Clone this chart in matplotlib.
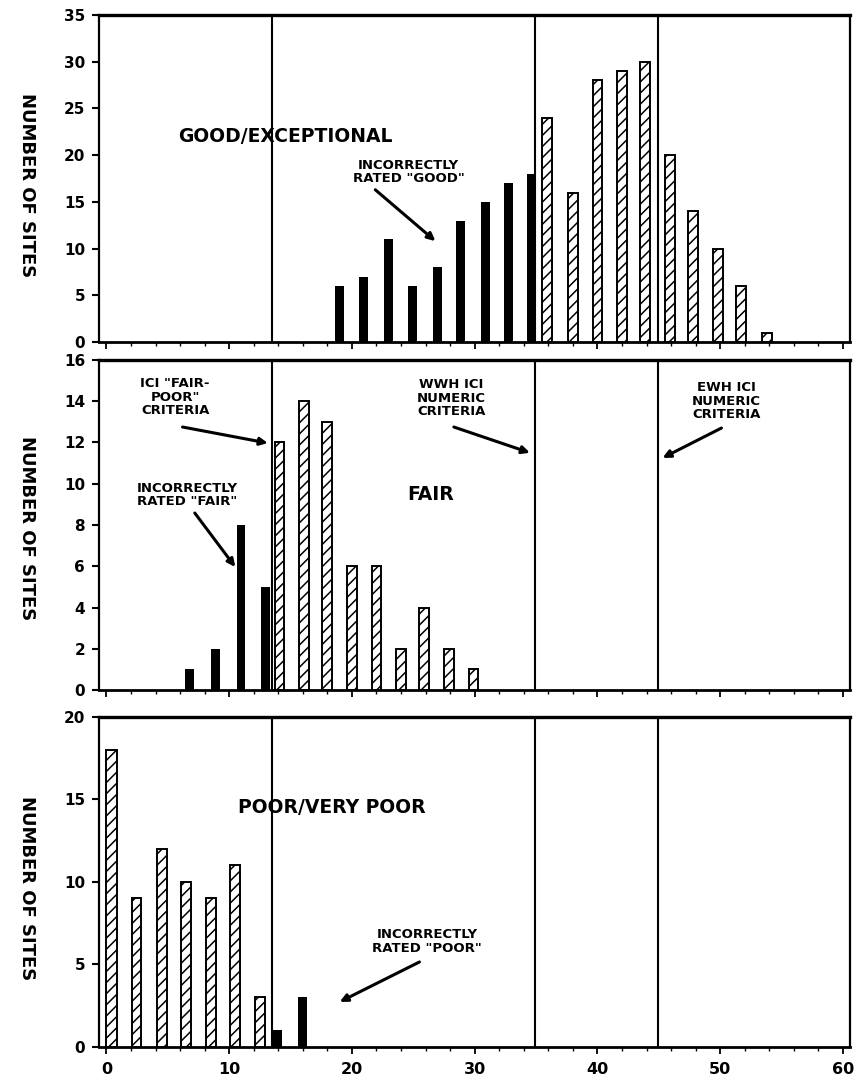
import matplotlib
matplotlib.use("Agg")
import matplotlib.pyplot as plt
from matplotlib.ticker import MultipleLocator

plt.rcParams['font.family'] = ['DejaVu Sans']
plt.rcParams['font.weight'] = 'bold'
plt.rcParams['hatch.linewidth'] = 1.1

# ---------------- data ----------------
# Panel 1: GOOD/EXCEPTIONAL
p1_black_x = [18.6, 20.6, 22.6, 24.6, 26.6, 28.5, 30.5, 32.4, 34.3]
p1_black_y = [6, 7, 11, 6, 8, 13, 15, 17, 18]
p1_hatch_x = [35.5, 37.6, 39.6, 41.6, 43.5, 45.5, 47.4, 49.4, 51.3, 53.4]
p1_hatch_y = [24, 16, 28, 29, 30, 20, 14, 10, 6, 1]
# Panel 2: FAIR
p2_black_x = [6.4, 8.5, 10.6, 12.6]
p2_black_y = [1, 2, 8, 5]
p2_hatch_x = [13.7, 15.7, 17.6, 19.6, 21.6, 23.6, 25.5, 27.5, 29.5]
p2_hatch_y = [12, 14, 13, 6, 6, 2, 4, 2, 1]
# Panel 3: POOR/VERY POOR
p3_hatch_x = [0.0, 2.05, 4.1, 6.1, 8.1, 10.1, 12.1]
p3_hatch_y = [18, 9, 12, 10, 9, 11, 3]
p3_black_x = [13.6, 15.6]
p3_black_y = [1, 3]

criteria_lines = [13.5, 34.9, 44.9]
y_maxes = [35, 16, 20]
y_steps = [5, 2, 5]
x_ticks = [0, 10, 20, 30, 40, 50, 60]
ylabel_text = "NUMBER OF SITES"

# ---------------- figure ----------------
fig = plt.figure(figsize=(8.56, 10.8), dpi=100)
rects = [
    [0.1157, 0.6833, 0.877, 0.3028],
    [0.1157, 0.3611, 0.877, 0.3056],
    [0.1157, 0.0306, 0.877, 0.3056],
]
axes = [fig.add_axes(r) for r in rects]

hw = 0.8
bw = 0.72

def hatched(ax, xs, ys, first_w=None):
    for i, (x, y) in enumerate(zip(xs, ys)):
        w = first_w if (first_w is not None and i == 0) else hw
        ax.bar(x, y, width=w, align='edge', facecolor='white',
               edgecolor='black', hatch='///', linewidth=1.4, zorder=3)

def black(ax, xs, ys):
    ax.bar(xs, ys, width=bw, align='edge', color='black', zorder=3)

black(axes[0], p1_black_x, p1_black_y)
hatched(axes[0], p1_hatch_x, p1_hatch_y)
black(axes[1], p2_black_x, p2_black_y)
hatched(axes[1], p2_hatch_x, p2_hatch_y)
hatched(axes[2], p3_hatch_x, p3_hatch_y, first_w=0.9)
black(axes[2], p3_black_x, p3_black_y)

for i, ax in enumerate(axes):
    ax.set_xlim(-0.6, 60.55)
    ax.set_ylim(0, y_maxes[i])
    ax.yaxis.set_major_locator(MultipleLocator(y_steps[i]))
    ax.xaxis.set_major_locator(MultipleLocator(10))
    ax.xaxis.set_minor_locator(MultipleLocator(2))
    for xv in criteria_lines:
        ax.axvline(xv, color='black', lw=1.5, zorder=2)
    for s in ax.spines.values():
        s.set_linewidth(1.6)
    ax.spines['top'].set_linewidth(2.4)
    ax.spines['bottom'].set_linewidth(2.0)
    ax.tick_params(axis='y', direction='out', length=5, width=1.5,
                   labelsize=11, pad=5)
    ax.tick_params(axis='x', which='major', direction='out', length=5, width=1.3)
    ax.tick_params(axis='x', which='minor', direction='out', length=3, width=1.0)
    for lab in ax.get_yticklabels():
        lab.set_fontweight('bold')
    if i < 2:
        ax.set_xticklabels([])
    else:
        ax.set_xticks(x_ticks)
        ax.set_xticklabels([str(t) for t in x_ticks], fontsize=11.5,
                           fontweight='bold')
        ax.tick_params(axis='x', pad=6)

# y labels (letters reading top to bottom)
for yc in [185, 528, 888]:
    fig.text(27 / 856, 1 - yc / 1080, ylabel_text, rotation=270,
             ha='center', va='center', fontsize=13, fontweight='bold')

arrow = dict(arrowstyle='-|>,head_length=0.45,head_width=0.22', lw=2.2,
             color='black', shrinkA=0, shrinkB=0)
small = 9.5
big = 13.5

# Panel 1 texts
a = axes[0]
a.text(14.6, 22.0, "GOOD/EXCEPTIONAL", ha='center', va='center',
       fontsize=big, fontweight='bold')
a.text(24.6, 18.2, 'INCORRECTLY\nRATED "GOOD"', ha='center', va='center',
       fontsize=small, fontweight='bold', linespacing=1.05)
a.annotate('', xy=(26.8, 10.8), xytext=(21.9, 16.3), arrowprops=arrow)

# Panel 2 texts
a = axes[1]
a.text(5.6, 14.2, 'ICI "FAIR-\nPOOR"\nCRITERIA', ha='center', va='center',
       fontsize=small, fontweight='bold', linespacing=1.05)
a.annotate('', xy=(13.15, 11.97), xytext=(6.2, 12.75), arrowprops=arrow)
a.text(6.6, 9.45, 'INCORRECTLY\nRATED "FAIR"', ha='center', va='center',
       fontsize=small, fontweight='bold', linespacing=1.05)
a.annotate('', xy=(10.5, 5.96), xytext=(7.2, 8.58), arrowprops=arrow)
a.text(26.4, 9.5, "FAIR", ha='center', va='center',
       fontsize=big, fontweight='bold')
a.text(28.1, 14.15, 'WWH ICI\nNUMERIC\nCRITERIA', ha='center', va='center',
       fontsize=small, fontweight='bold', linespacing=1.05)
a.annotate('', xy=(34.5, 11.5), xytext=(28.3, 12.75), arrowprops=arrow)
a.text(50.5, 14.0, 'EWH ICI\nNUMERIC\nCRITERIA', ha='center', va='center',
       fontsize=small, fontweight='bold', linespacing=1.05)
a.annotate('', xy=(45.3, 11.25), xytext=(50.1, 12.7), arrowprops=arrow)

# Panel 3 texts
a = axes[2]
a.text(18.4, 14.5, "POOR/VERY POOR", ha='center', va='center',
       fontsize=big, fontweight='bold')
a.text(26.1, 6.4, 'INCORRECTLY\nRATED "POOR"', ha='center', va='center',
       fontsize=small, fontweight='bold', linespacing=1.05)
a.annotate('', xy=(19.0, 2.73), xytext=(25.5, 5.15), arrowprops=arrow)

fig.savefig("out.png", dpi=100)
